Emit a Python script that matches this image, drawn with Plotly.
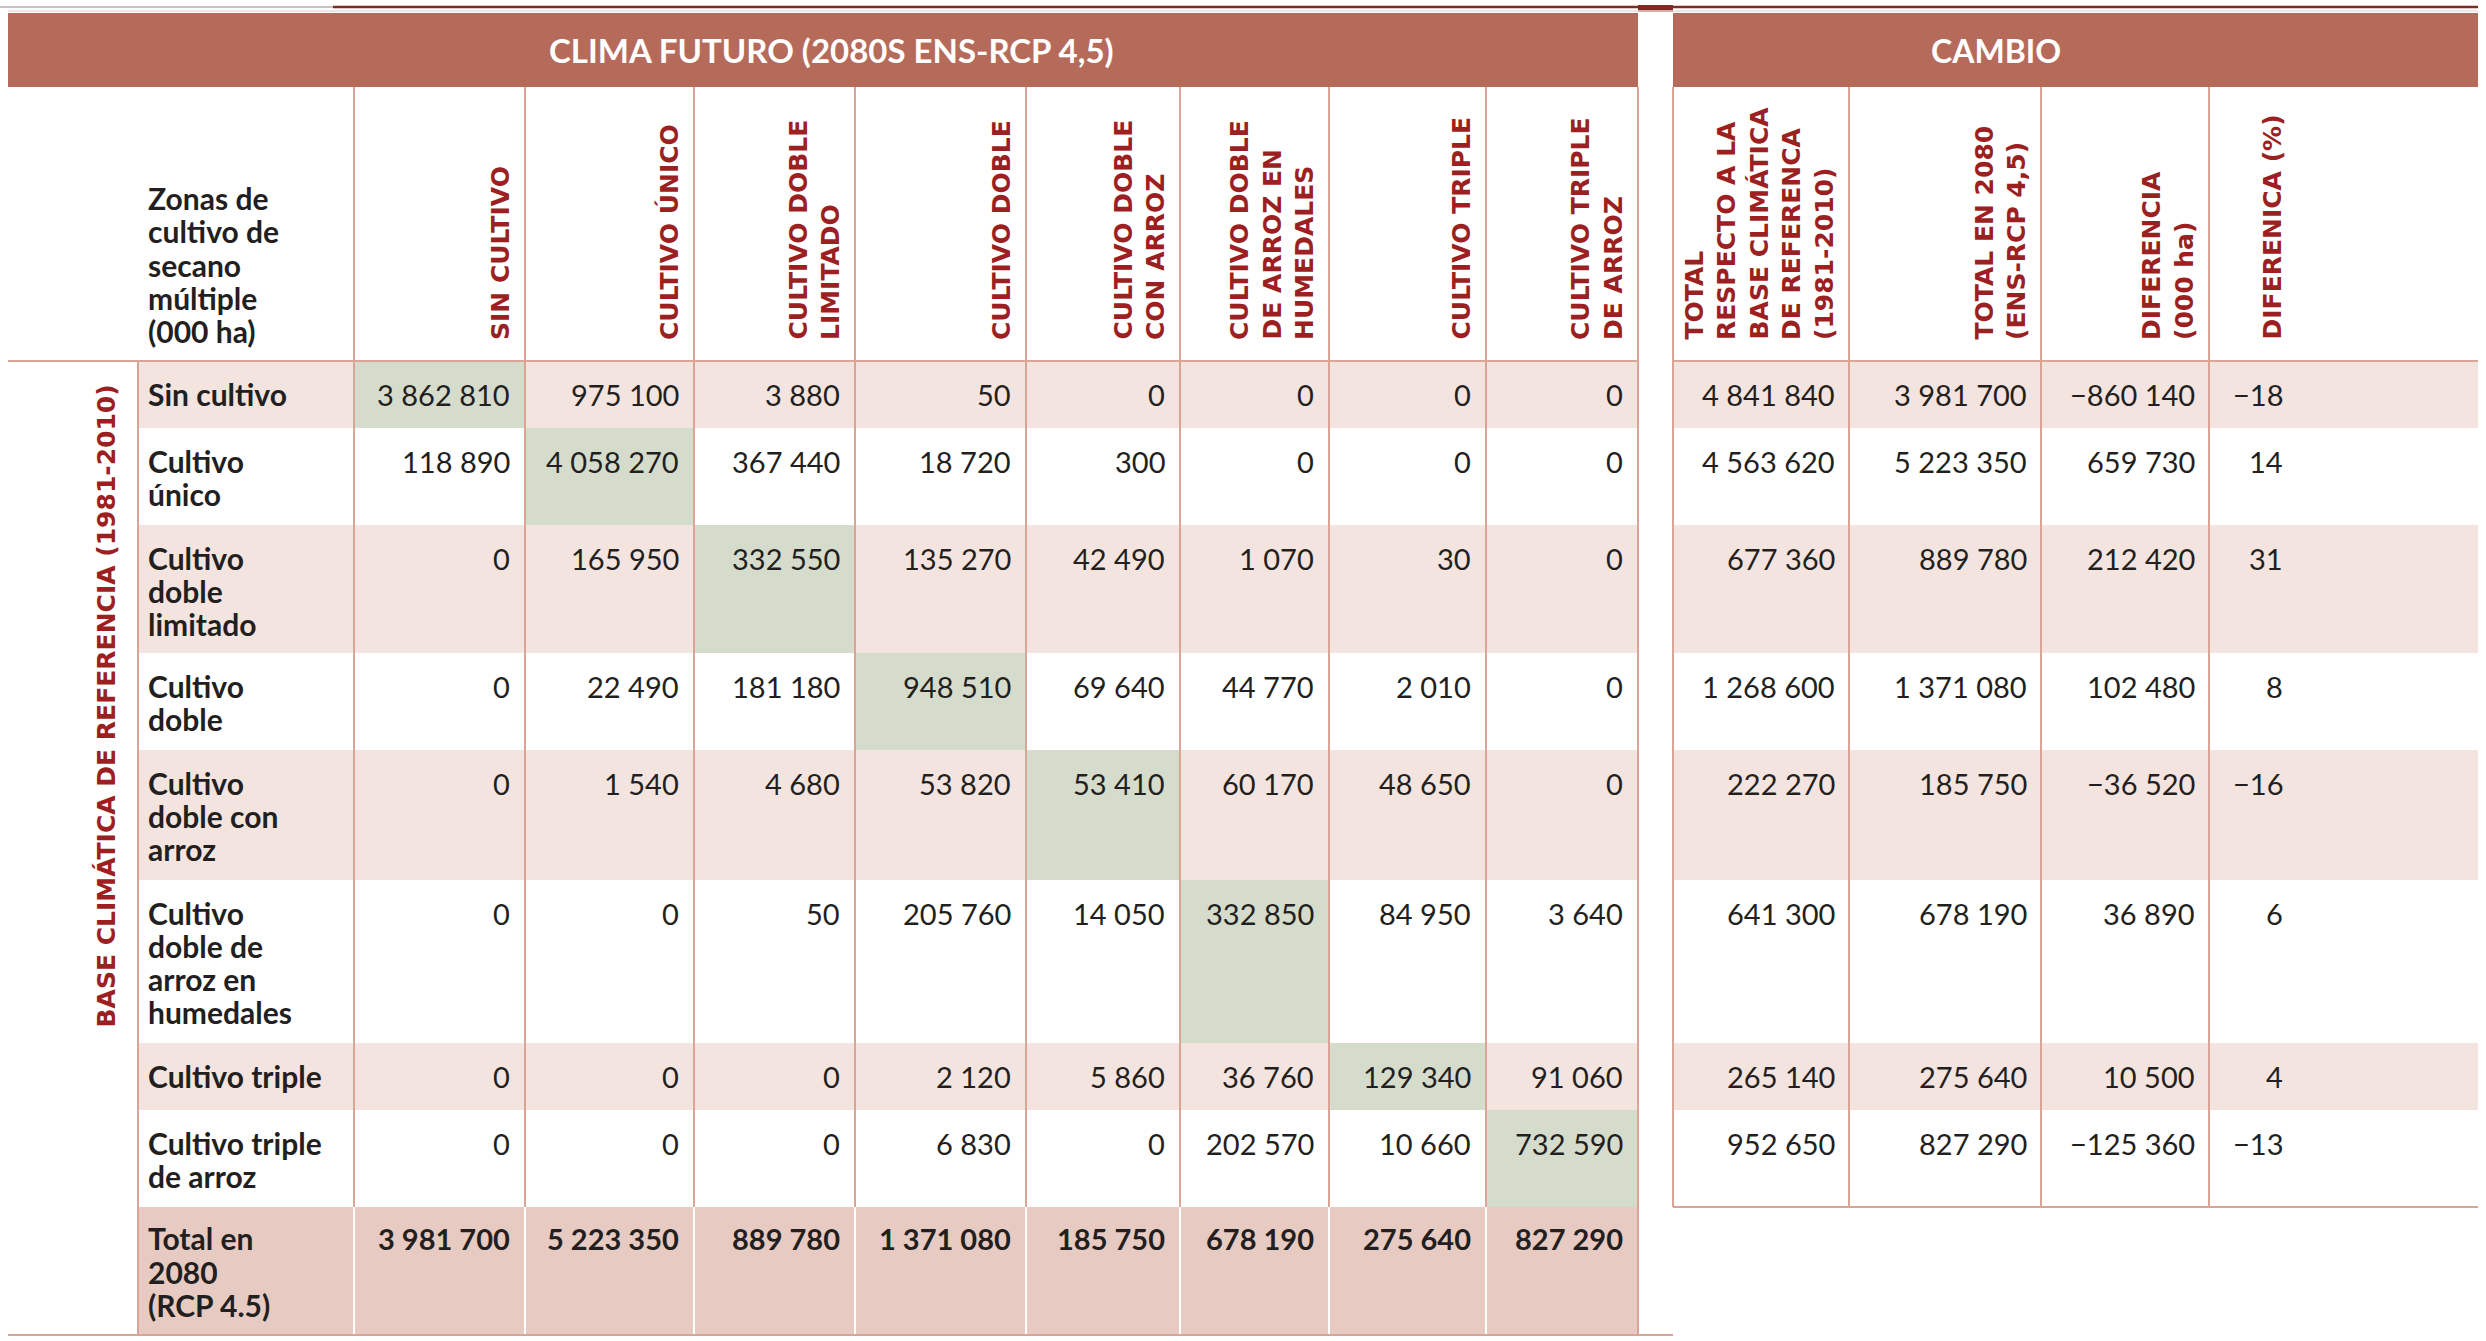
import plotly.graph_objects as go

# ---------------- data ----------------
row_categories = [
    "Sin cultivo", "Cultivo único", "Cultivo doble limitado", "Cultivo doble",
    "Cultivo doble con arroz", "Cultivo doble de arroz en humedales",
    "Cultivo triple", "Cultivo triple de arroz",
]
row_label_lines = [
    ["Sin cultivo"], ["Cultivo", "único"], ["Cultivo", "doble", "limitado"],
    ["Cultivo", "doble"], ["Cultivo", "doble con", "arroz"],
    ["Cultivo", "doble de", "arroz en", "humedales"],
    ["Cultivo triple"], ["Cultivo triple", "de arroz"],
]
future_headers = [
    ["SIN CULTIVO"], ["CULTIVO ÚNICO"], ["CULTIVO DOBLE", "LIMITADO"],
    ["CULTIVO DOBLE"], ["CULTIVO DOBLE", "CON ARROZ"],
    ["CULTIVO DOBLE", "DE ARROZ EN", "HUMEDALES"],
    ["CULTIVO TRIPLE"], ["CULTIVO TRIPLE", "DE ARROZ"],
]
change_headers = [
    ["TOTAL", "RESPECTO A LA", "BASE CLIMÁTICA", "DE REFERENCA", "(1981-2010)"],
    ["TOTAL EN 2080", "(ENS-RCP 4,5)"],
    ["DIFERENCIA", "(000 ha)"],
    ["DIFERENICA (%)"],
]
corner_label = ["Zonas de", "cultivo de", "secano", "múltiple", "(000 ha)"]
total_label = ["Total en", "2080", "(RCP 4.5)"]
title_future = "CLIMA FUTURO (2080S ENS-RCP 4,5)"
title_change = "CAMBIO"
side_label = "BASE CLIMÁTICA DE REFERENCIA (1981-2010)"

transition_sin_cultivo = [3862810, 975100, 3880, 50, 0, 0, 0, 0]
transition_unico = [118890, 4058270, 367440, 18720, 300, 0, 0, 0]
transition_doble_limitado = [0, 165950, 332550, 135270, 42490, 1070, 30, 0]
transition_doble = [0, 22490, 181180, 948510, 69640, 44770, 2010, 0]
transition_doble_arroz = [0, 1540, 4680, 53820, 53410, 60170, 48650, 0]
transition_doble_humedales = [0, 0, 50, 205760, 14050, 332850, 84950, 3640]
transition_triple = [0, 0, 0, 2120, 5860, 36760, 129340, 91060]
transition_triple_arroz = [0, 0, 0, 6830, 0, 202570, 10660, 732590]
transitions = [transition_sin_cultivo, transition_unico, transition_doble_limitado,
               transition_doble, transition_doble_arroz, transition_doble_humedales,
               transition_triple, transition_triple_arroz]

total_2080_row = [3981700, 5223350, 889780, 1371080, 185750, 678190, 275640, 827290]

total_baseline = [4841840, 4563620, 677360, 1268600, 222270, 641300, 265140, 952650]
total_2080 = [3981700, 5223350, 889780, 1371080, 185750, 678190, 275640, 827290]
diff_ha = [-860140, 659730, 212420, 102480, -36520, 36890, 10500, -125360]
diff_pct = [-18, 14, 31, 8, -16, 6, 4, -13]

# ---------------- layout constants (pixels) ----------------
W, H = 2486, 1341
X_LEFT, X_LABEL = 8, 138
COL_EDGES = [354, 525, 694, 855, 1026, 1180, 1329, 1486, 1638]
CHG_EDGES = [1673, 1849, 2041, 2209, 2297]
X_RIGHT = 2478
BAND_TOP, BAND_BOT, HEAD_BOT = 13, 87, 361
ROW_EDGES = [361, 428, 525, 653, 750, 880, 1043, 1110, 1207, 1335]

C_BAND = "#b66b5a"
C_HEAD = "#9c1f22"
C_PINK = "#f3e4df"
C_GREEN = "#d6dccc"
C_TOTAL = "#e7cac1"
C_LINE = "#d8a596"
C_TEXT = "#231f20"

NUM_FONT = "Lato"
HEAD_FONT = "DejaVu Sans"


def fmt(v):
    s = f"{abs(v):,}".replace(",", " ")
    return ("−" if v < 0 else "") + s


shapes = []
annotations = []


def rect(x0, y0, x1, y1, color):
    shapes.append(dict(type="rect", xref="x", yref="y", x0=x0, y0=y0, x1=x1, y1=y1,
                       fillcolor=color, line=dict(width=0), layer="below"))


def hline(x0, x1, y, color, w=2):
    shapes.append(dict(type="line", xref="x", yref="y", x0=x0, x1=x1, y0=y, y1=y,
                       line=dict(color=color, width=w)))


def vline(x, y0, y1, color, w=2):
    shapes.append(dict(type="line", xref="x", yref="y", x0=x, x1=x, y0=y0, y1=y1,
                       line=dict(color=color, width=w)))


def txt(x, y, s, size, color, family, weight="normal", xanchor="center",
        yanchor="middle", angle=0):
    annotations.append(dict(x=x, y=y, xref="x", yref="y", text=s, showarrow=False,
                            xanchor=xanchor, yanchor=yanchor, textangle=angle,
                            font=dict(size=size, color=color, family=family, weight=weight)))


# top rules
hline(0, 333, 7, "#c9c3c1", 2)
hline(333, X_RIGHT, 7, "#7e2b22", 2.5)
hline(X_LEFT, X_RIGHT, 11, "#eadcd8", 1.5)
rect(COL_EDGES[-1], 5, CHG_EDGES[0], 12, "#7e2b22")

# header bands
rect(X_LEFT, BAND_TOP, COL_EDGES[-1], BAND_BOT, C_BAND)
rect(CHG_EDGES[0], BAND_TOP, X_RIGHT, BAND_BOT, C_BAND)
txt((X_LEFT + COL_EDGES[-1]) / 2 + 8, (BAND_TOP + BAND_BOT) / 2, title_future, 33, "white", NUM_FONT, "bold")
txt(1996, (BAND_TOP + BAND_BOT) / 2, title_change, 32, "white", NUM_FONT, "bold")

# row backgrounds
n_rows = len(row_categories)
for i in range(n_rows):
    if i % 2 == 0:
        rect(X_LABEL, ROW_EDGES[i], COL_EDGES[-1], ROW_EDGES[i + 1], C_PINK)
        rect(CHG_EDGES[0], ROW_EDGES[i], X_RIGHT, ROW_EDGES[i + 1], C_PINK)
rect(X_LABEL, ROW_EDGES[n_rows], COL_EDGES[-1], ROW_EDGES[n_rows + 1], C_TOTAL)
# diagonal (unchanged zones)
for i in range(n_rows):
    rect(COL_EDGES[i], ROW_EDGES[i], COL_EDGES[i + 1], ROW_EDGES[i + 1], C_GREEN)

# grid lines
for x in COL_EDGES[:-1]:
    vline(x, BAND_BOT, ROW_EDGES[n_rows], C_LINE)
    vline(x, ROW_EDGES[n_rows], ROW_EDGES[-1], "white")
vline(X_LABEL, HEAD_BOT, ROW_EDGES[-1], C_LINE)
vline(COL_EDGES[-1], BAND_BOT, ROW_EDGES[-1], C_LINE)
for x in CHG_EDGES[:-1]:
    vline(x, BAND_BOT, ROW_EDGES[n_rows], C_LINE)
hline(X_LEFT, COL_EDGES[-1], HEAD_BOT, C_LINE)
hline(CHG_EDGES[0], X_RIGHT, HEAD_BOT, C_LINE)
hline(X_LEFT, CHG_EDGES[0], ROW_EDGES[-1], C_LINE)
hline(CHG_EDGES[0], X_RIGHT, ROW_EDGES[n_rows], C_LINE)

NUM_SIZE = 29
LABEL_SIZE = 30

# corner label
for k, s in enumerate(corner_label):
    txt(146, 198 + k * 33.3, s, LABEL_SIZE, C_TEXT, NUM_FONT, "bold", xanchor="left")

# rotated column headers
HEAD_SIZE = 25
LINE_STEP = 32.5


def col_header(lines, right):
    n = len(lines)
    for k, s in enumerate(lines):
        x = right - 25 - (n - 1 - k) * LINE_STEP
        txt(x, 342, s, HEAD_SIZE, C_HEAD, HEAD_FONT, "bold", xanchor="center",
            yanchor="bottom", angle=-90)


for j, lines in enumerate(future_headers):
    col_header(lines, COL_EDGES[j + 1])
for j, lines in enumerate(change_headers):
    col_header(lines, CHG_EDGES[j + 1])

# side label
txt(106, 383, side_label, 25, C_HEAD, HEAD_FONT, "bold", xanchor="center",
    yanchor="top", angle=-90)

# body rows
for i in range(n_rows):
    top = ROW_EDGES[i]
    for k, s in enumerate(row_label_lines[i]):
        txt(146, top + 33 + k * 33, s, LABEL_SIZE, C_TEXT, NUM_FONT, "bold", xanchor="left")
    for j, v in enumerate(transitions[i]):
        txt(COL_EDGES[j + 1] - 13, top + 33, fmt(v), NUM_SIZE, C_TEXT, NUM_FONT, xanchor="right")
    change_vals = [total_baseline[i], total_2080[i], diff_ha[i], diff_pct[i]]
    for j, v in enumerate(change_vals):
        txt(CHG_EDGES[j + 1] - 12, top + 33, fmt(v), NUM_SIZE, C_TEXT, NUM_FONT, xanchor="right")

# total row
top = ROW_EDGES[n_rows]
for k, s in enumerate(total_label):
    txt(146, top + 31 + k * 33.5, s, LABEL_SIZE, C_TEXT, NUM_FONT, "bold", xanchor="left")
for j, v in enumerate(total_2080_row):
    txt(COL_EDGES[j + 1] - 13, top + 31, fmt(v), NUM_SIZE, C_TEXT, NUM_FONT, "bold", xanchor="right")

fig = go.Figure()
fig.update_layout(
    width=W, height=H, margin=dict(l=0, r=0, t=0, b=0),
    paper_bgcolor="white", plot_bgcolor="white",
    xaxis=dict(range=[0, W], visible=False, fixedrange=True),
    yaxis=dict(range=[H, 0], visible=False, fixedrange=True),
    shapes=shapes, annotations=annotations, showlegend=False,
)
fig.write_html("out.html", config={"displayModeBar": False, "staticPlot": True},
               post_script="document.body.style.margin='0';")
